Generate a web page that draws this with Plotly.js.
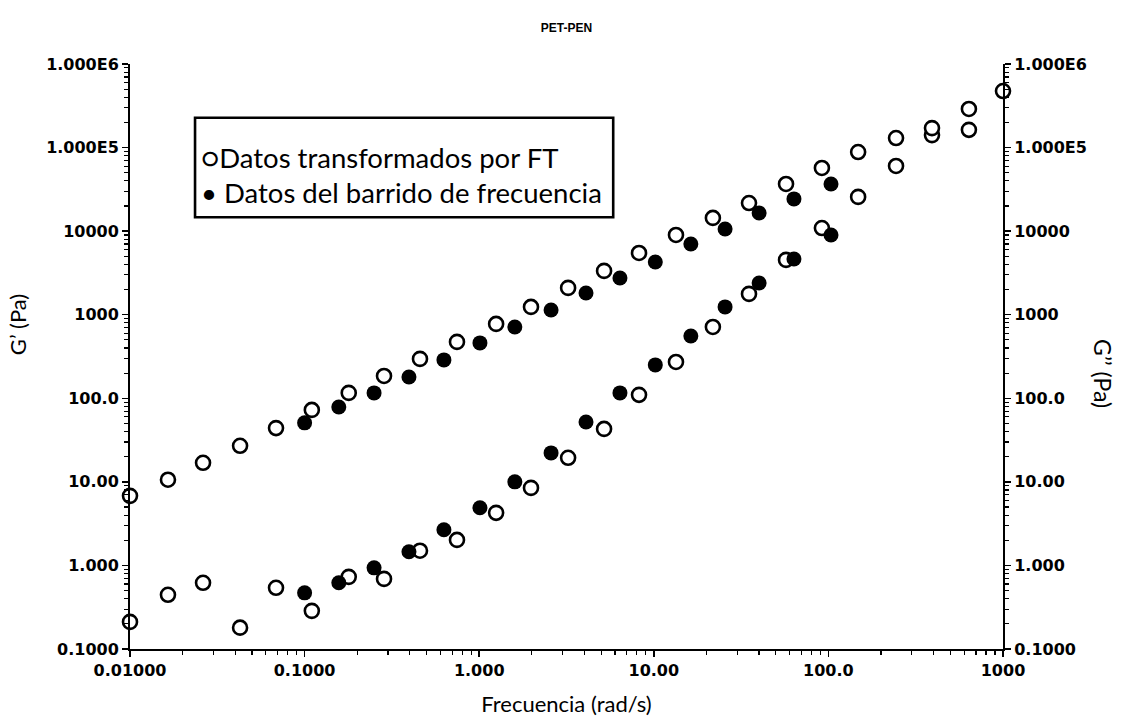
<!DOCTYPE html>
<html>
<head>
<meta charset="utf-8">
<script src="https://cdn.plot.ly/plotly-3.0.1.min.js"></script>
<style>html,body{margin:0;padding:0;background:#fff;}#chart{width:1123px;height:722px;}</style>
</head>
<body>
<div id="chart"></div>
<script>
// Frequencies of the FT-transformed data (open circles), rad/s
const freqFT = [0.01, 0.0165, 0.0262, 0.0427, 0.0686, 0.110, 0.179, 0.285, 0.458, 0.746, 1.25, 1.98, 3.23, 5.19, 8.23, 13.4, 21.8, 35.1, 57.2, 91.8, 148, 244, 392, 638, 1000];
// G' from FT (lower curve at low frequency), Pa
const gPrimeFT = [0.211, 0.445, 0.62, 0.18, 0.54, 0.286, 0.73, 0.69, 1.5, 2.02, 4.26, 8.47, 19.4, 43, 110, 272, 714, 1775, 4530, 10900, 25700, 60300, 141000, 290000, 475000];
// G'' from FT (upper curve at low frequency), Pa
const gDoublePrimeFT = [6.8, 10.6, 16.9, 27, 44, 72.6, 116, 185, 296, 473, 776, 1240, 2094, 3344, 5480, 9010, 14400, 21700, 36700, 57000, 88500, 130000, 171000, 163000, null];

// Frequency sweep data (filled circles)
const freqSweep = [0.1, 0.157, 0.25, 0.396, 0.628, 1.01, 1.60, 2.58, 4.09, 6.4, 10.2, 16.3, 25.6, 40.1, 63.5, 103.5];
const gPrimeSweep = [0.47, 0.62, 0.935, 1.46, 2.67, 4.89, 10.0, 22.2, 52, 116, 251, 557, 1240, 2400, 4650, 9010];
const gDoublePrimeSweep = [50.8, 78.8, 116, 180, 288, 460, 714, 1140, 1820, 2750, 4280, 7030, 10600, 16500, 24300, 36700];

// Tick labels
const xTickVals = [0.01, 0.1, 1, 10, 100, 1000];
const xTickText = ['0.01000', '0.1000', '1.000', '10.00', '100.0', '1000'];
const yTickVals = [0.1, 1, 10, 100, 1000, 10000, 100000, 1000000];
const yTickText = ['0.1000', '1.000', '10.00', '100.0', '1000', '10000', '1.000E5', '1.000E6'];

// Legend texts
const legendOpen = '○Datos transformados por FT';
const legendFilled = '• Datos del barrido de frecuencia';

const openMarker = {symbol: 'circle', size: 14, color: 'white', line: {color: 'black', width: 2.6}};
const filledMarker = {symbol: 'circle', size: 15, color: 'black', line: {color: 'black', width: 0}};

const traces = [
  {x: freqFT, y: gPrimeFT, type: 'scatter', mode: 'markers', marker: openMarker, cliponaxis: false, yaxis: 'y', name: "G' FT"},
  {x: freqFT, y: gDoublePrimeFT, type: 'scatter', mode: 'markers', marker: openMarker, cliponaxis: false, yaxis: 'y2', name: "G'' FT"},
  {x: freqSweep, y: gPrimeSweep, type: 'scatter', mode: 'markers', marker: filledMarker, cliponaxis: false, yaxis: 'y', name: "G' sweep"},
  {x: freqSweep, y: gDoublePrimeSweep, type: 'scatter', mode: 'markers', marker: filledMarker, cliponaxis: false, yaxis: 'y2', name: "G'' sweep"}
];

const tickFont = {family: 'DejaVu Sans, Liberation Sans, sans-serif', size: 16, color: 'black', weight: 'bold'};
const titleFont = {family: 'Lato, Open Sans, sans-serif', size: 22, color: 'black'};
const legendFont = {family: 'Lato, Open Sans, sans-serif', size: 27.5, color: 'black'};
const minorTicks = {ticks: 'outside', ticklen: 4, tickwidth: 1.2, tickcolor: 'black', dtick: 'D1', showgrid: false};

const yRange = [-1, 6];
const layout = {
  width: 1123, height: 722,
  margin: {l: 130, r: 120, t: 64, b: 73},
  paper_bgcolor: 'white', plot_bgcolor: 'white',
  showlegend: false,
  title: {text: 'PET-PEN', x: 0.5, xref: 'paper', xanchor: 'center', y: 0.961, yref: 'container', yanchor: 'middle',
          font: {family: 'Liberation Sans, Arial, sans-serif', size: 12, color: 'black', weight: 'bold'}},
  xaxis: {
    type: 'log', range: [-2, 3], showgrid: false, zeroline: false,
    showline: true, linecolor: 'black', linewidth: 2, mirror: false,
    ticks: 'outside', ticklen: 6, tickwidth: 1.5, tickcolor: 'black',
    tickmode: 'array', tickvals: xTickVals, ticktext: xTickText, tickfont: tickFont,
    minor: minorTicks,
    title: {text: 'Frecuencia (rad/s)', font: titleFont, standoff: 17}
  },
  yaxis: {
    type: 'log', range: yRange, showgrid: false, zeroline: false,
    showline: true, linecolor: 'black', linewidth: 2,
    ticks: 'outside', ticklen: 6, tickwidth: 1.5, tickcolor: 'black',
    tickmode: 'array', tickvals: yTickVals, ticktext: yTickText, tickfont: tickFont,
    minor: minorTicks
  },
  yaxis2: {
    type: 'log', range: yRange, overlaying: 'y', side: 'right', showgrid: false, zeroline: false,
    showline: true, linecolor: 'black', linewidth: 2,
    ticks: 'outside', ticklen: 6, tickwidth: 1.5, tickcolor: 'black',
    tickmode: 'array', tickvals: yTickVals, ticktext: yTickText, tickfont: tickFont,
    minor: minorTicks
  },
  shapes: [
    {type: 'rect', xref: 'paper', yref: 'paper', x0: 0.0745, x1: 0.5535, y0: 0.738, y1: 0.908,
     line: {color: 'black', width: 2.6}, fillcolor: 'white', layer: 'below'}
  ],
  annotations: [
    {text: legendOpen, xref: 'paper', yref: 'paper', x: 0.079, y: 0.84, xanchor: 'left', yanchor: 'middle',
     showarrow: false, align: 'left', font: legendFont},
    {text: legendFilled, xref: 'paper', yref: 'paper', x: 0.079, y: 0.78, xanchor: 'left', yanchor: 'middle',
     showarrow: false, align: 'left', font: legendFont},
    {text: 'G’ (Pa)', xref: 'paper', yref: 'paper', x: -0.128, y: 0.554, xanchor: 'center', yanchor: 'middle',
     textangle: -90, showarrow: false, font: titleFont},
    {text: 'G’’ (Pa)', xref: 'paper', yref: 'paper', x: 1.1145, y: 0.47, xanchor: 'center', yanchor: 'middle',
     textangle: 90, showarrow: false, font: {family: 'Lato, Open Sans, sans-serif', size: 23, color: 'black'}}
  ]
};

Plotly.newPlot('chart', traces, layout, {displayModeBar: false, staticPlot: true});
</script>
</body>
</html>
